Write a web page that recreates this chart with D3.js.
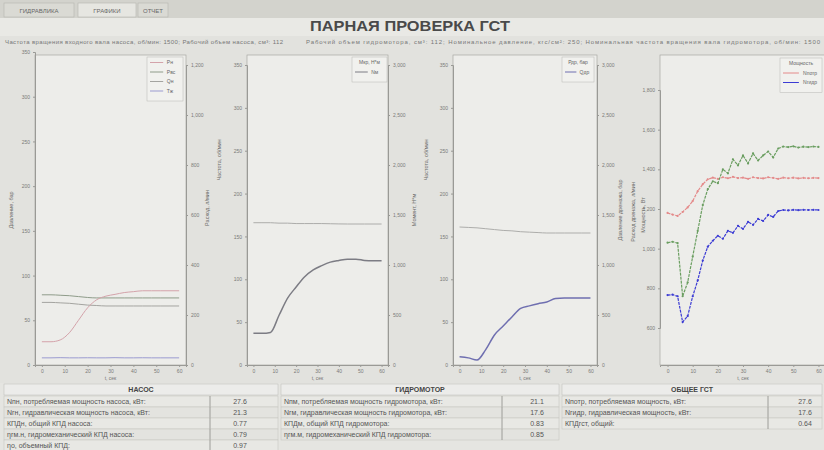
<!DOCTYPE html>
<html>
<head>
<meta charset="utf-8">
<script src="https://cdn.jsdelivr.net/npm/d3@7"></script>
<style>
  body { margin: 0; background: #e2e2de; }
  svg { display: block; font-family: "Liberation Sans", Arial, sans-serif; }
  .tick text { fill: #7a7a78; font-size: 5px; }
  .tick line, .domain { stroke: #9a9a96; }
</style>
</head>
<body>
<svg id="chart" width="824" height="450"></svg>
<script>
// ---- data ----
let tabs = ['ГИДРАВЛИКА', 'ГРАФИКИ', 'ОТЧЕТ']
let tTicks = [0, 10, 20, 30, 40, 50, 60]
let tSmooth = [0, 4, 8, 12, 16, 20, 24, 28, 32, 36, 40, 44, 48, 52, 56, 60]
let tNoisy = [0, 2, 4, 6, 8, 10, 12, 14, 16, 18, 20, 22, 24, 26, 28, 30, 32, 34, 36, 38, 40, 42, 44, 46, 48, 50, 52, 54, 56, 58, 60]

// panel 1 - pump (left axis, bar)
let p1Labels = ['Рн', 'Рвс', 'Qн', 'Тж']
let p1Pn  = [26, 26, 28, 36, 50, 64, 73, 77, 79, 81, 82, 83, 83, 83, 83, 83]
let p1Pvs = [78.5, 78.5, 78, 77.5, 76.5, 75.5, 75, 75, 75, 75, 75, 75, 75, 75, 75, 75]
let p1Q   = [70, 70, 69.5, 69, 68, 67, 66.5, 66, 66, 66, 66, 66, 66, 66, 66, 66]
let p1T   = [8, 8, 8.2, 8, 8, 8.1, 8, 8, 8.2, 8, 8, 8.1, 8, 8, 8, 8]
let p1LeftTicks = [0, 50, 100, 150, 200, 250, 300, 350]
let p1RightTicks = [0, 200, 400, 600, 800, 1000, 1200]

// panel 2 - motor
let p2Labels = ['Мкр, Н*м', 'Nм']
let p2Flat  = [166, 166, 166, 165.5, 165.5, 165, 165, 165, 165, 164.8, 164.6, 164.5, 164.5, 164.5, 164.5, 164.5]
let p2Curve = [37, 37, 38, 58, 78, 91, 103, 111, 116, 120, 122, 123.5, 123.5, 122, 121.5, 121.5]

// panel 3 - motor drain
let p3Labels = ['Рдр, бар', 'Qдр']
let p3Flat  = [161, 160.5, 160, 159, 158, 157, 156.5, 155.5, 155, 154.5, 154, 154, 154, 154, 154, 154]
let p3Curve = [9.5, 8.3, 5.8, 18, 35, 45.5, 56, 66, 69, 71.5, 73.5, 77.5, 78.2, 78.2, 78.2, 78.2]
let midLeftTicks = [0, 50, 100, 150, 200, 250, 300, 350]
let midRightTicks = [0, 500, 1000, 1500, 2000, 2500, 3000]

// panel 4 - whole transmission
let p4Labels = ['Nпотр', 'Nгидр']
let p4Red   = [1180, 1172, 1165, 1185, 1208, 1240, 1290, 1325, 1350, 1358, 1352, 1360, 1355, 1362, 1356, 1358, 1352, 1360, 1356, 1354, 1360, 1357, 1352, 1358, 1355, 1358, 1354, 1357, 1355, 1357, 1356]
let p4Green = [1030, 1035, 1028, 760, 830, 960, 1090, 1220, 1300, 1340, 1330, 1400, 1380, 1450, 1420, 1470, 1430, 1480, 1445, 1470, 1490, 1460, 1505, 1515, 1512, 1516, 1510, 1514, 1512, 1515, 1513]
let p4Blue  = [766, 768, 760, 630, 660, 760, 840, 940, 1010, 1040, 1065, 1050, 1090, 1080, 1115, 1100, 1135, 1120, 1150, 1140, 1170, 1160, 1190, 1195, 1193, 1196, 1194, 1196, 1195, 1196, 1195]
let p4Ticks = [600, 800, 1000, 1200, 1400, 1600, 1800]

// table
let pumpRows = ['Nпн, потребляемая мощность насоса, кВт:', 'Nгн, гидравлическая мощность насоса, кВт:', 'КПДн, общий КПД насоса:', 'ηгм.н, гидромеханический КПД насоса:', 'ηо, объемный КПД:']
let pumpVals = ['27.6', '21.3', '0.77', '0.79', '0.97']
let motorRows = ['Nпм, потребляемая мощность гидромотора, кВт:', 'Nгм, гидравлическая мощность гидромотора, кВт:', 'КПДм, общий КПД гидромотора:', 'ηгм.м, гидромеханический КПД гидромотора:']
let motorVals = ['21.1', '17.6', '0.83', '0.85']
let totalRows = ['Nпотр, потребляемая мощность, кВт:', 'Nгидр, гидравлическая мощность, кВт:', 'КПДгст, общий:']
let totalVals = ['27.6', '17.6', '0.64']

let svg = d3.select('#chart')

// screen background, tab strip, title
svg.append('rect').attr('width', 824).attr('height', 450).style('fill', '#e2e2de')
svg.append('rect').attr('width', 824).attr('height', 18).style('fill', '#d3d3cd')
svg.append('rect').attr('y', 18).attr('width', 824).attr('height', 18).style('fill', '#e9e9e5')
let tabX = [4, 78, 138], tabW = [70, 58, 30]
tabs.forEach((name, i) => {
  svg.append('rect').attr('x', tabX[i]).attr('y', 3).attr('width', tabW[i]).attr('height', 14)
     .style('fill', i == 1 ? '#e6e6e1' : '#dadad4').style('stroke', '#b5b5ae').style('stroke-width', 0.6)
  svg.append('text').attr('x', tabX[i] + tabW[i] / 2).attr('y', 12.5).text(name)
     .style('font-size', '6px').style('fill', '#666').style('text-anchor', 'middle')
})
svg.append('text').attr('x', 410).attr('y', 31).text('ПАРНАЯ ПРОВЕРКА ГСТ')
   .attr('textLength', 200).attr('lengthAdjust', 'spacingAndGlyphs')
   .style('font-size', '14px').style('font-weight', 'bold').style('fill', '#4a4a4a').style('text-anchor', 'middle')
svg.append('text').attr('x', 5).attr('y', 44)
   .text('Частота вращения входного вала насоса, об/мин: 1500; Рабочий объем насоса, см³: 112')
   .attr('textLength', 278).style('font-size', '6px').style('fill', '#777')
svg.append('text').attr('x', 306).attr('y', 44)
   .text('Рабочий объем гидромотора, см³: 112; Номинальное давление, кгс/см²: 250; Номинальная частота вращения вала гидромотора, об/мин: 1500')
   .attr('textLength', 514).style('font-size', '6px').style('fill', '#777')

let plotTop = 55, plotBottom = 365

function panel(x0, x1, id) {
  let x = d3.scaleLinear().domain([-3, 63]).range([x0, x1])
  svg.append('rect').attr('x', x0).attr('y', plotTop).attr('width', x1 - x0).attr('height', plotBottom - plotTop)
     .style('fill', '#ededea').style('stroke', '#a8a8a4').style('stroke-width', 0.7)
  svg.append('clipPath').attr('id', id).append('rect')
     .attr('x', x0).attr('y', plotTop).attr('width', x1 - x0).attr('height', plotBottom - plotTop)
  svg.append('g').attr('transform', `translate(0, ${plotBottom})`)
     .call(d3.axisBottom(x).tickValues(tTicks).tickSize(2).tickPadding(2))
  svg.append('text').attr('x', (x0 + x1) / 2).attr('y', 380).text('t, сек')
     .style('font-size', '5px').style('fill', '#777').style('text-anchor', 'middle')
  return x
}

function vtitle(x, y, txt) {
  svg.append('text').attr('transform', `translate(${x}, ${y}) rotate(-90)`).text(txt)
     .style('font-size', '5.5px').style('fill', '#6a6a68').style('text-anchor', 'middle')
}

function series(x, y, ts, vals, color, w, clip) {
  let line = d3.line().x((d, i) => x(ts[i])).y(d => y(d)).curve(d3.curveMonotoneX)
  svg.append('path').datum(vals).attr('d', line).attr('clip-path', `url(#${clip})`)
     .style('fill', 'none').style('stroke', color).style('stroke-width', w)
}

function legend(x0, y0, w, names, colors) {
  svg.append('rect').attr('x', x0).attr('y', y0).attr('width', w).attr('height', 6 + names.length * 9.5)
     .style('fill', '#f1f1ee').style('stroke', '#b8b8b4').style('stroke-width', 0.5)
  names.forEach((n, i) => {
    let yy = y0 + 7 + i * 9.5
    if (colors[i]) svg.append('line').attr('x1', x0 + 3).attr('x2', x0 + w * 0.45).attr('y1', yy - 1.5).attr('y2', yy - 1.5)
       .style('stroke', colors[i]).style('stroke-width', 1)
    svg.append('text').attr('x', colors[i] ? x0 + w * 0.55 : x0 + w / 2).attr('y', yy).text(n)
       .style('font-size', '5px').style('fill', '#666').style('text-anchor', colors[i] ? 'start' : 'middle')
  })
}

// panel 1
let x1 = panel(35, 186, 'c1')
let y1 = d3.scaleLinear().domain([0, 350]).range([plotBottom, 52])
let y1r = d3.scaleLinear().domain([0, 1200]).range([plotBottom, 65])
svg.append('g').attr('transform', 'translate(35, 0)').call(d3.axisLeft(y1).tickValues(p1LeftTicks).tickSize(2))
svg.append('g').attr('transform', 'translate(186, 0)').call(d3.axisRight(y1r).tickValues(p1RightTicks).tickSize(2))
vtitle(13, 210, 'Давление, бар')
vtitle(209, 208, 'Расход, л/мин')
vtitle(221, 160, 'Частота, об/мин')
series(x1, y1, tSmooth, p1Pvs, '#8f9c8a', 1, 'c1')
series(x1, y1, tSmooth, p1Q, '#a4a4a0', 1, 'c1')
series(x1, y1, tSmooth, p1Pn, '#d4a3aa', 1, 'c1')
series(x1, y1, tSmooth, p1T, '#9b9bd0', 1, 'c1')
legend(147, 57, 36, p1Labels, ['#d4a3aa', '#8f9c8a', '#a4a4a0', '#9b9bd0'])

// panel 2
let x2 = panel(247, 388, 'c2')
let y2 = d3.scaleLinear().domain([0, 350]).range([plotBottom, 65])
let y2r = d3.scaleLinear().domain([0, 3000]).range([plotBottom, 65])
svg.append('g').attr('transform', 'translate(247, 0)').call(d3.axisLeft(y2).tickValues(midLeftTicks).tickSize(2))
svg.append('g').attr('transform', 'translate(388, 0)').call(d3.axisRight(y2r).tickValues(midRightTicks).tickSize(2))
vtitle(416, 210, 'Момент, Н*м')
vtitle(428, 160, 'Частота, об/мин')
series(x2, y2, tSmooth, p2Flat, '#acacaa', 1, 'c2')
series(x2, y2, tSmooth, p2Curve, '#7c7c84', 1.5, 'c2')
legend(352, 57, 35, p2Labels, [null, '#7c7c84'])

// panel 3
let x3 = panel(453, 597, 'c3')
let y3 = d3.scaleLinear().domain([0, 350]).range([plotBottom, 65])
let y3r = d3.scaleLinear().domain([0, 3000]).range([plotBottom, 65])
svg.append('g').attr('transform', 'translate(453, 0)').call(d3.axisLeft(y3).tickValues(midLeftTicks).tickSize(2))
svg.append('g').attr('transform', 'translate(597, 0)').call(d3.axisRight(y3r).tickValues(midRightTicks).tickSize(2))
vtitle(622, 210, 'Давление дренажа, бар')
vtitle(635, 212, 'Расход дренажа, л/мин')
series(x3, y3, tSmooth, p3Flat, '#adadab', 1, 'c3')
series(x3, y3, tSmooth, p3Curve, '#6f6fb0', 1.5, 'c3')
legend(562, 57, 32, p3Labels, [null, '#6f6fb0'])

// panel 4
let x4 = panel(660, 826, 'c4')
let y4 = d3.scaleLinear().domain([600, 1800]).range([328, 90])
svg.append('g').attr('transform', 'translate(660, 0)').call(d3.axisLeft(y4).tickValues(p4Ticks).tickSize(2))
vtitle(645, 215, 'Мощность, Вт')
;[[p4Red, '#e48a8a'], [p4Green, '#6a9e60'], [p4Blue, '#3c3cd4']].forEach(([vals, col]) => {
  let line = d3.line().x((d, i) => x4(tNoisy[i])).y(d => y4(d))
  svg.append('path').datum(vals).attr('d', line).attr('clip-path', 'url(#c4)')
     .style('fill', 'none').style('stroke', col).style('stroke-width', 1.2).style('stroke-dasharray', '3 1')
  svg.append('g').attr('clip-path', 'url(#c4)').selectAll('circle').data(vals).enter()
     .append('circle').attr('cx', (d, i) => x4(tNoisy[i])).attr('cy', d => y4(d)).attr('r', 1.1)
     .style('fill', col)
})
legend(780, 58, 42, ['Мощность', ...p4Labels], [null, '#e48a8a', '#3c3cd4'])

// table
let tableTop = 383, rowH = 11
svg.append('rect').attr('x', 0).attr('y', tableTop).attr('width', 824).attr('height', 450 - tableTop).style('fill', '#e5e5e1')
function section(x0, x1, sep, valX, title, rows, vals) {
  svg.append('rect').attr('x', x0).attr('y', tableTop + 1).attr('width', x1 - x0).attr('height', 11)
     .style('fill', '#ececea').style('stroke', '#bdbdb8').style('stroke-width', 0.5)
  svg.append('text').attr('x', (x0 + x1) / 2).attr('y', tableTop + 9).text(title)
     .style('font-size', '7px').style('font-weight', 'bold').style('fill', '#444').style('text-anchor', 'middle')
  rows.forEach((r, i) => {
    let yy = tableTop + 13 + i * rowH
    svg.append('rect').attr('x', x0).attr('y', yy).attr('width', x1 - x0).attr('height', rowH)
       .style('fill', i % 2 ? '#e3e3df' : '#e8e8e4').style('stroke', '#c2c2bd').style('stroke-width', 0.5)
    svg.append('line').attr('x1', sep).attr('x2', sep).attr('y1', yy).attr('y2', yy + rowH)
       .style('stroke', '#8a8a86').style('stroke-width', 0.8)
    svg.append('text').attr('x', x0 + 3).attr('y', yy + 8).text(r)
       .style('font-size', '7px').style('fill', '#555')
    svg.append('text').attr('x', valX).attr('y', yy + 8).text(vals[i])
       .style('font-size', '7px').style('fill', '#555').style('text-anchor', 'middle')
  })
}
section(4, 278, 210, 240, 'НАСОС', pumpRows, pumpVals)
section(281, 559, 502, 537, 'ГИДРОМОТОР', motorRows, motorVals)
section(562, 822, 768, 805, 'ОБЩЕЕ ГСТ', totalRows, totalVals)
</script>
</body>
</html>
